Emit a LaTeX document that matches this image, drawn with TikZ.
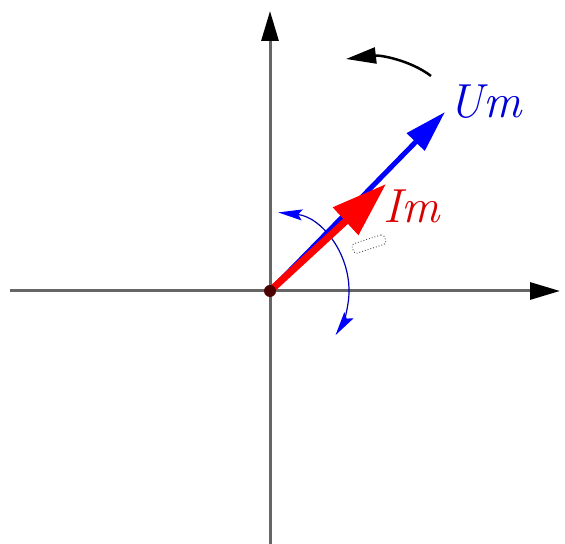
\documentclass[tikz,border=0pt]{standalone}
\usetikzlibrary{arrows.meta}
\begin{document}
\begin{tikzpicture}[x=1bp,y=1bp,
  axis/.style={draw=black!60,line width=3bp,-{Triangle[length=30bp,width=17bp,fill=black,color=black]}},
  phasor/.style={line width=5bp},
  arch/.tip={Stealth[length=24bp,width=11bp,inset=4bp,fill=blue,color=blue]},
  lbl/.style={font=\fontsize{48}{48}\selectfont\itshape}]
\useasboundingbox (0,0) rectangle (565,544);
\coordinate (O) at (270,253);
\coordinate (xs) at (10,253);
\coordinate (xe) at (560,253);
\coordinate (ys) at (270,0);
\coordinate (ye) at (270,533);
\draw[axis] (xs) -- (xe);
\draw[axis] (ys) -- (ye);
% arc
\draw[blue!70!black,line width=1.2bp,{arch}-{arch}]
  (O) ++(84:79) arc[start angle=84,end angle=-34,radius=79];
% dotted small rect
\node[draw=black!70,dotted,line width=0.9bp,rounded corners=3bp,minimum width=34bp,minimum height=10bp,inner sep=0pt,rotate=18] (dr) at (369,300) {};
% phasors
\coordinate (U) at (445,432);
\coordinate (I) at (386,360);
\draw[phasor,blue,-{Triangle[length=42bp,width=24bp]}] (O) -- (U);
\draw[phasor,red,line width=7bp,-{Triangle[length=55bp,width=36bp]}] (O) -- (I);
\node[circle,fill=black!70!red,inner sep=0pt,minimum size=12bp] (Od) at (O) {};
% rotation arrow
\coordinate (r1) at (431,468);
\coordinate (r2) at (346,485);
\draw[line width=2.5bp,-{Triangle[length=30bp,width=16bp]}] (r1) .. controls (410,484) and (380,489) .. (r2);
% labels
\node[lbl,text=blue!85!black] (um) at (485,442) {Um};
\node[lbl,text=red!85!black] (im) at (412,338) {Im};
\end{tikzpicture}
\end{document}
